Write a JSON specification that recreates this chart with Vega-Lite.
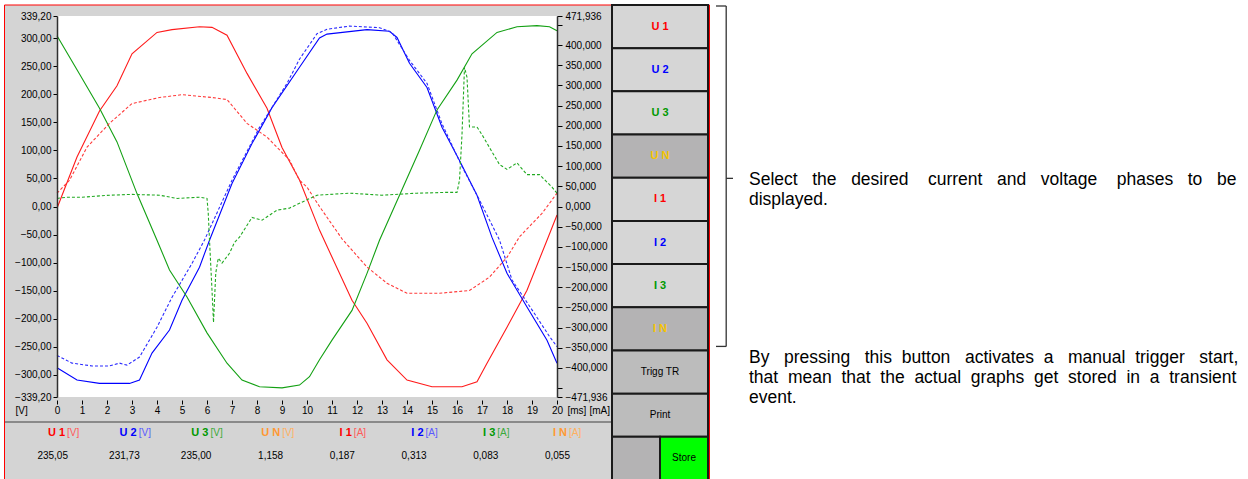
{
"$schema":"https://vega.github.io/schema/vega-lite/v6.json",
"width":1248,"height":479,"autosize":{"type":"none"},"padding":0,"background":"#ffffff",
"config":{"view":{"stroke":null},"font":"Liberation Sans","axis":{"grid":false,"labelFont":"Liberation Sans","titleFont":"Liberation Sans"},"text":{"font":"Liberation Sans"}},
"layer":[
{"data":{"values":[{"region":"instrument screen"}]},
 "mark":{"type":"rect","fill":"#d4d4d4","stroke":"#ff0000","strokeWidth":1},
 "encoding":{"x":{"field":"region","type":"nominal","scale":{"type":"band","domain":["instrument screen"],"range":[4.5,709.5],"paddingInner":0,"paddingOuter":0},"axis":null},
 "y":{"field":"region","type":"nominal","scale":{"type":"band","domain":["instrument screen"],"range":[5,500],"paddingInner":0,"paddingOuter":0},"axis":null}}},
{"data":{"values":[{"region":"plot area"}]},
 "mark":{"type":"rect","fill":"#ffffff"},
 "encoding":{"x":{"field":"region","type":"nominal","scale":{"type":"band","domain":["plot area"],"range":[57,557],"paddingInner":0,"paddingOuter":0},"axis":null},
 "y":{"field":"region","type":"nominal","scale":{"type":"band","domain":["plot area"],"range":[16,397],"paddingInner":0,"paddingOuter":0},"axis":null}}},
{"data":{"values":[{"region":"separator"}]},
 "mark":{"type":"rect","fill":"#8a8a8a"},
 "encoding":{"x":{"field":"region","type":"nominal","scale":{"type":"band","domain":["separator"],"range":[5,611],"paddingInner":0,"paddingOuter":0},"axis":null},
 "y":{"field":"region","type":"nominal","scale":{"type":"band","domain":["separator"],"range":[421,423],"paddingInner":0,"paddingOuter":0},"axis":null}}},
{"data":{"values":[
{"t":0,"v":-3,"phase":"U 1"},{"t":0.8,"v":88,"phase":"U 1"},{"t":1.7,"v":170,"phase":"U 1"},{"t":2.4,"v":215,"phase":"U 1"},{"t":3.0,"v":272,"phase":"U 1"},{"t":4.0,"v":310,"phase":"U 1"},{"t":4.6,"v":315,"phase":"U 1"},{"t":5.7,"v":320,"phase":"U 1"},{"t":6.2,"v":319,"phase":"U 1"},{"t":6.8,"v":305,"phase":"U 1"},{"t":7.6,"v":237,"phase":"U 1"},{"t":8.4,"v":175,"phase":"U 1"},{"t":9.0,"v":105,"phase":"U 1"},{"t":9.7,"v":47,"phase":"U 1"},{"t":10.5,"v":-42,"phase":"U 1"},{"t":11.8,"v":-167,"phase":"U 1"},{"t":12.4,"v":-208,"phase":"U 1"},{"t":13.2,"v":-273,"phase":"U 1"},{"t":14.0,"v":-309,"phase":"U 1"},{"t":15.0,"v":-321,"phase":"U 1"},{"t":16.2,"v":-321,"phase":"U 1"},{"t":16.8,"v":-312,"phase":"U 1"},{"t":17.2,"v":-279,"phase":"U 1"},{"t":18.0,"v":-215,"phase":"U 1"},{"t":18.8,"v":-149,"phase":"U 1"},{"t":19.6,"v":-60,"phase":"U 1"},{"t":20,"v":-15,"phase":"U 1"},
{"t":0,"v":-287,"phase":"U 2"},{"t":0.8,"v":-309,"phase":"U 2"},{"t":1.7,"v":-315,"phase":"U 2"},{"t":2.9,"v":-315,"phase":"U 2"},{"t":3.3,"v":-309,"phase":"U 2"},{"t":3.8,"v":-261,"phase":"U 2"},{"t":4.5,"v":-220,"phase":"U 2"},{"t":5.0,"v":-167,"phase":"U 2"},{"t":5.7,"v":-108,"phase":"U 2"},{"t":6.1,"v":-60,"phase":"U 2"},{"t":7.0,"v":41,"phase":"U 2"},{"t":7.8,"v":112,"phase":"U 2"},{"t":8.6,"v":176,"phase":"U 2"},{"t":9.7,"v":248,"phase":"U 2"},{"t":10.5,"v":300,"phase":"U 2"},{"t":10.8,"v":307,"phase":"U 2"},{"t":12.4,"v":315,"phase":"U 2"},{"t":13.3,"v":312,"phase":"U 2"},{"t":13.6,"v":301,"phase":"U 2"},{"t":14.1,"v":255,"phase":"U 2"},{"t":14.8,"v":212,"phase":"U 2"},{"t":15.4,"v":141,"phase":"U 2"},{"t":16.1,"v":82,"phase":"U 2"},{"t":16.8,"v":20,"phase":"U 2"},{"t":17.4,"v":-55,"phase":"U 2"},{"t":18.0,"v":-119,"phase":"U 2"},{"t":18.8,"v":-179,"phase":"U 2"},{"t":19.6,"v":-238,"phase":"U 2"},{"t":20,"v":-279,"phase":"U 2"},
{"t":0,"v":304,"phase":"U 3"},{"t":0.9,"v":236,"phase":"U 3"},{"t":1.7,"v":175,"phase":"U 3"},{"t":2.4,"v":115,"phase":"U 3"},{"t":3.2,"v":23,"phase":"U 3"},{"t":4.0,"v":-60,"phase":"U 3"},{"t":4.5,"v":-113,"phase":"U 3"},{"t":5.2,"v":-161,"phase":"U 3"},{"t":6.0,"v":-225,"phase":"U 3"},{"t":6.8,"v":-279,"phase":"U 3"},{"t":7.4,"v":-309,"phase":"U 3"},{"t":8.1,"v":-321,"phase":"U 3"},{"t":9.0,"v":-323,"phase":"U 3"},{"t":9.7,"v":-318,"phase":"U 3"},{"t":10.1,"v":-303,"phase":"U 3"},{"t":10.5,"v":-273,"phase":"U 3"},{"t":11.0,"v":-238,"phase":"U 3"},{"t":11.8,"v":-185,"phase":"U 3"},{"t":12.4,"v":-119,"phase":"U 3"},{"t":12.9,"v":-60,"phase":"U 3"},{"t":13.7,"v":20,"phase":"U 3"},{"t":14.5,"v":100,"phase":"U 3"},{"t":15.2,"v":172,"phase":"U 3"},{"t":16.0,"v":225,"phase":"U 3"},{"t":16.6,"v":272,"phase":"U 3"},{"t":17.6,"v":310,"phase":"U 3"},{"t":18.4,"v":320,"phase":"U 3"},{"t":19.2,"v":322,"phase":"U 3"},{"t":19.7,"v":320,"phase":"U 3"},{"t":20,"v":313,"phase":"U 3"}
]},
 "mark":{"type":"line","strokeWidth":1.1},
 "encoding":{
  "x":{"field":"t","type":"quantitative","scale":{"domain":[0,20],"range":[57,557],"nice":false,"zero":false},
   "axis":{"orient":"bottom","offset":-79,"values":[0,1,2,3,4,5,6,7,8,9,10,11,12,13,14,15,16,17,18,19,20],"labelExpr":"datum.value","domain":false,"tickSize":4,"tickColor":"#000000","labelPadding":1,"labelFontSize":10,"labelColor":"#000000","labelFlush":false,"labelOverlap":false,"labelBound":false,"title":"[ms]","titleX":567,"titleY":5,"titleAlign":"left","titleBaseline":"top","titleFontSize":10,"titleFontWeight":"normal","titleColor":"#000000","zindex":1}},
  "y":{"field":"v","type":"quantitative","scale":{"domain":[-339.2,339.2],"range":[397,16],"nice":false,"zero":false},
   "axis":{"orient":"left","offset":-57,"values":[-339.2,-300,-250,-200,-150,-100,-50,0,50,100,150,200,250,300,339.2],"labelExpr":"replace(format(datum.value, '.2f'), '.', ',')","domainColor":"#303030","domainWidth":1.5,"tickSize":4,"tickColor":"#000000","labelPadding":2,"labelFontSize":10,"labelColor":"#000000","labelFlush":false,"labelOverlap":false,"labelBound":false,"title":"[V]","titleAngle":0,"titleX":-42,"titleY":405,"titleAlign":"left","titleBaseline":"top","titleFontSize":10,"titleFontWeight":"normal","titleColor":"#000000","zindex":1}},
  "color":{"field":"phase","type":"nominal","scale":{"domain":["U 1","U 2","U 3"],"range":["#ff1a1a","#0000ff","#13a013"]},"legend":null}}},
{"data":{"values":[
{"t":0,"i":33,"phase":"I 1"},{"t":0.5,"i":65,"phase":"I 1"},{"t":1.2,"i":147,"phase":"I 1"},{"t":2.1,"i":206,"phase":"I 1"},{"t":3.0,"i":255,"phase":"I 1"},{"t":4.1,"i":270,"phase":"I 1"},{"t":5.0,"i":277,"phase":"I 1"},{"t":6.2,"i":270,"phase":"I 1"},{"t":6.8,"i":265,"phase":"I 1"},{"t":7.6,"i":206,"phase":"I 1"},{"t":8.4,"i":172,"phase":"I 1"},{"t":9.3,"i":115,"phase":"I 1"},{"t":9.7,"i":65,"phase":"I 1"},{"t":10.0,"i":48,"phase":"I 1"},{"t":10.5,"i":0,"phase":"I 1"},{"t":11.4,"i":-80,"phase":"I 1"},{"t":12.4,"i":-150,"phase":"I 1"},{"t":13.2,"i":-190,"phase":"I 1"},{"t":14.0,"i":-215,"phase":"I 1"},{"t":15.3,"i":-215,"phase":"I 1"},{"t":16.5,"i":-208,"phase":"I 1"},{"t":17.3,"i":-175,"phase":"I 1"},{"t":18.0,"i":-126,"phase":"I 1"},{"t":18.5,"i":-75,"phase":"I 1"},{"t":19.4,"i":-17,"phase":"I 1"},{"t":20,"i":33,"phase":"I 1"},
{"t":0,"i":-369,"phase":"I 2"},{"t":0.6,"i":-388,"phase":"I 2"},{"t":1.4,"i":-395,"phase":"I 2"},{"t":2.1,"i":-395,"phase":"I 2"},{"t":2.5,"i":-388,"phase":"I 2"},{"t":2.8,"i":-393,"phase":"I 2"},{"t":3.3,"i":-373,"phase":"I 2"},{"t":4.0,"i":-299,"phase":"I 2"},{"t":4.6,"i":-225,"phase":"I 2"},{"t":5.4,"i":-141,"phase":"I 2"},{"t":5.9,"i":-83,"phase":"I 2"},{"t":7.0,"i":65,"phase":"I 2"},{"t":8.1,"i":196,"phase":"I 2"},{"t":9.2,"i":305,"phase":"I 2"},{"t":9.7,"i":365,"phase":"I 2"},{"t":10.4,"i":428,"phase":"I 2"},{"t":10.8,"i":439,"phase":"I 2"},{"t":11.7,"i":447,"phase":"I 2"},{"t":12.9,"i":443,"phase":"I 2"},{"t":13.4,"i":431,"phase":"I 2"},{"t":14.1,"i":362,"phase":"I 2"},{"t":14.8,"i":305,"phase":"I 2"},{"t":15.4,"i":205,"phase":"I 2"},{"t":16.2,"i":99,"phase":"I 2"},{"t":16.9,"i":16,"phase":"I 2"},{"t":17.7,"i":-83,"phase":"I 2"},{"t":18.2,"i":-182,"phase":"I 2"},{"t":19.0,"i":-256,"phase":"I 2"},{"t":19.7,"i":-322,"phase":"I 2"},{"t":20,"i":-347,"phase":"I 2"},
{"t":0,"i":20,"phase":"I 3"},{"t":0.4,"i":23,"phase":"I 3"},{"t":1.0,"i":23,"phase":"I 3"},{"t":2.1,"i":28,"phase":"I 3"},{"t":3.0,"i":30,"phase":"I 3"},{"t":4.1,"i":28,"phase":"I 3"},{"t":4.8,"i":20,"phase":"I 3"},{"t":5.7,"i":23,"phase":"I 3"},{"t":6.0,"i":20,"phase":"I 3"},{"t":6.05,"i":-17,"phase":"I 3"},{"t":6.1,"i":-83,"phase":"I 3"},{"t":6.2,"i":-207,"phase":"I 3"},{"t":6.26,"i":-287,"phase":"I 3"},{"t":6.35,"i":-165,"phase":"I 3"},{"t":6.45,"i":-128,"phase":"I 3"},{"t":6.6,"i":-140,"phase":"I 3"},{"t":6.9,"i":-116,"phase":"I 3"},{"t":7.1,"i":-89,"phase":"I 3"},{"t":7.3,"i":-76,"phase":"I 3"},{"t":7.8,"i":-27,"phase":"I 3"},{"t":8.2,"i":-34,"phase":"I 3"},{"t":8.8,"i":-9,"phase":"I 3"},{"t":9.3,"i":-4,"phase":"I 3"},{"t":9.7,"i":8,"phase":"I 3"},{"t":10.4,"i":28,"phase":"I 3"},{"t":11.7,"i":33,"phase":"I 3"},{"t":13.0,"i":28,"phase":"I 3"},{"t":14.4,"i":33,"phase":"I 3"},{"t":15.6,"i":35,"phase":"I 3"},{"t":16.0,"i":35,"phase":"I 3"},{"t":16.1,"i":65,"phase":"I 3"},{"t":16.2,"i":178,"phase":"I 3"},{"t":16.3,"i":345,"phase":"I 3"},{"t":16.4,"i":320,"phase":"I 3"},{"t":16.5,"i":197,"phase":"I 3"},{"t":16.8,"i":197,"phase":"I 3"},{"t":17.0,"i":178,"phase":"I 3"},{"t":17.3,"i":146,"phase":"I 3"},{"t":17.7,"i":104,"phase":"I 3"},{"t":18.0,"i":92,"phase":"I 3"},{"t":18.4,"i":108,"phase":"I 3"},{"t":18.8,"i":79,"phase":"I 3"},{"t":19.3,"i":79,"phase":"I 3"},{"t":19.8,"i":48,"phase":"I 3"},{"t":20,"i":33,"phase":"I 3"}
]},
 "mark":{"type":"line","strokeWidth":1.1,"strokeDash":[3,2]},
 "encoding":{
  "x":{"field":"t","type":"quantitative","scale":{"domain":[0,20],"range":[57,557],"nice":false,"zero":false},"axis":null},
  "y":{"field":"i","type":"quantitative","scale":{"domain":[-471.936,471.936],"range":[397,16],"nice":false,"zero":false},
   "axis":{"orient":"right","offset":-691,"values":[-471.936,-450,-400,-350,-300,-250,-200,-150,-100,-50,0,50,100,150,200,250,300,350,400,450,471.936],"labelExpr":"abs(datum.value) == 450 ? '' : replace(format(datum.value, '.3f'), '.', ',')","domainColor":"#303030","domainWidth":1.5,"tickSize":5,"tickColor":"#000000","labelPadding":3,"labelFontSize":10,"labelColor":"#000000","labelFlush":false,"labelOverlap":false,"labelBound":false,"title":"[mA]","titleAngle":0,"titleX":32,"titleY":405,"titleAlign":"left","titleBaseline":"top","titleFontSize":10,"titleFontWeight":"normal","titleColor":"#000000","zindex":1}},
  "color":{"field":"phase","type":"nominal","scale":{"domain":["I 1","I 2","I 3"],"range":["#ff3a3a","#2a2aff","#22aa22"]},"legend":null}}},
{"data":{"values":[
{"name":"U 1","unit":"[V]","reading":"235,05"},{"name":"U 2","unit":"[V]","reading":"231,73"},{"name":"U 3","unit":"[V]","reading":"235,00"},{"name":"U N","unit":"[V]","reading":"1,158"},
{"name":"I 1","unit":"[A]","reading":"0,187"},{"name":"I 2","unit":"[A]","reading":"0,313"},{"name":"I 3","unit":"[A]","reading":"0,083"},{"name":"I N","unit":"[A]","reading":"0,055"}]},
 "encoding":{"x":{"field":"name","type":"nominal","scale":{"type":"point","domain":["U 1","U 2","U 3","U N","I 1","I 2","I 3","I N"],"range":[66,568],"padding":0},"axis":null}},
 "layer":[
  {"mark":{"type":"text","align":"right","baseline":"middle","dx":-1,"fontSize":11,"fontWeight":"bold"},
   "encoding":{"y":{"datum":"label","type":"nominal","scale":{"type":"point","domain":["label","reading"],"range":[433,456],"padding":0},"axis":null},
    "text":{"field":"name"},
    "color":{"field":"name","type":"nominal","scale":{"domain":["U 1","U 2","U 3","U N","I 1","I 2","I 3","I N"],"range":["#ff0000","#0000ff","#009900","#ff9933","#ff0000","#0000ff","#009900","#ff9933"]},"legend":null}}},
  {"mark":{"type":"text","align":"left","baseline":"middle","dx":1,"fontSize":10},
   "encoding":{"y":{"datum":"label","type":"nominal"},
    "text":{"field":"unit"},
    "fill":{"field":"name","type":"nominal","scale":{"domain":["U 1","U 2","U 3","U N","I 1","I 2","I 3","I N"],"range":["#ff5a5a","#5a5aff","#3aaa3a","#ffb060","#ff5a5a","#5a5aff","#3aaa3a","#ffb060"]},"legend":null}}},
  {"mark":{"type":"text","align":"right","baseline":"middle","dx":2,"fontSize":10,"color":"#000000"},
   "encoding":{"y":{"datum":"reading","type":"nominal"},"text":{"field":"reading"}}}
 ]},
{"data":{"values":[
{"row":"U 1","btn":"U 1","column":"main","state":"on"},{"row":"U 2","btn":"U 2","column":"main","state":"on"},{"row":"U 3","btn":"U 3","column":"main","state":"on"},{"row":"U N","btn":"U N","column":"main","state":"off"},
{"row":"I 1","btn":"I 1","column":"main","state":"on"},{"row":"I 2","btn":"I 2","column":"main","state":"on"},{"row":"I 3","btn":"I 3","column":"main","state":"on"},{"row":"I N","btn":"I N","column":"main","state":"off"},
{"row":"Trigg TR","btn":"Trigg TR","column":"main","state":"action"},{"row":"Print","btn":"Print","column":"main","state":"action"}]},
 "encoding":{
  "x":{"field":"column","type":"nominal","scale":{"type":"band","domain":["main"],"range":[612,708],"paddingInner":0,"paddingOuter":0},"axis":null},
  "y":{"field":"row","type":"nominal","scale":{"type":"band","domain":["U 1","U 2","U 3","U N","I 1","I 2","I 3","I N","Trigg TR","Print","bottom"],"range":[5,480],"paddingInner":0,"paddingOuter":0},"axis":null}},
 "layer":[
  {"mark":{"type":"rect","stroke":"#1a1a1a","strokeWidth":2},
   "encoding":{"fill":{"field":"state","type":"nominal","scale":{"domain":["on","off","action"],"range":["#d6d6d6","#b4b3b4","#bcbcbc"]},"legend":null}}},
  {"transform":[{"filter":"datum.state != 'action'"}],
   "mark":{"type":"text","fontSize":11,"fontWeight":"bold","baseline":"middle"},
   "encoding":{"x":{"field":"column","type":"nominal","bandPosition":0.5},"y":{"field":"row","type":"nominal","bandPosition":0.5},
    "text":{"field":"btn"},
    "color":{"field":"btn","type":"nominal","scale":{"domain":["U 1","U 2","U 3","U N","I 1","I 2","I 3","I N"],"range":["#ff0000","#0000ff","#009900","#f5c400","#ff0000","#0000ff","#009900","#f5c400"]},"legend":null}}},
  {"transform":[{"filter":"datum.state == 'action'"}],
   "mark":{"type":"text","fontSize":10,"baseline":"middle","color":"#000000"},
   "encoding":{"x":{"field":"column","type":"nominal","bandPosition":0.5},"y":{"field":"row","type":"nominal","bandPosition":0.5},"text":{"field":"btn"}}}
 ]},
{"data":{"values":[{"row":"bottom","column":"left","btn":"","state":"off"},{"row":"bottom","column":"right","btn":"Store","state":"store"}]},
 "encoding":{
  "x":{"field":"column","type":"nominal","scale":{"type":"band","domain":["left","right"],"range":[612,708],"paddingInner":0,"paddingOuter":0},"axis":null},
  "y":{"field":"row","type":"nominal","scale":{"type":"band","domain":["U 1","U 2","U 3","U N","I 1","I 2","I 3","I N","Trigg TR","Print","bottom"],"range":[5,480],"paddingInner":0,"paddingOuter":0},"axis":null}},
 "layer":[
  {"mark":{"type":"rect","stroke":"#1a1a1a","strokeWidth":2},
   "encoding":{"fill":{"field":"state","type":"nominal","scale":{"domain":["off","store"],"range":["#b4b3b4","#00ff00"]},"legend":null}}},
  {"mark":{"type":"text","fontSize":10,"baseline":"middle","color":"#000000"},
   "encoding":{"x":{"field":"column","type":"nominal","bandPosition":0.5},"y":{"field":"row","type":"nominal","bandPosition":0.5},"text":{"field":"btn"}}}
 ]},
{"data":{"values":[{"part":"brace","first":"U 1","last":"I N","tip":"I 1"}]},
 "layer":[
  {"mark":{"type":"rule","color":"#333333","strokeWidth":1.3},
   "encoding":{"x":{"field":"part","type":"nominal","bandPosition":0.6,"scale":{"type":"band","domain":["brace"],"range":[716,733],"paddingInner":0,"paddingOuter":0},"axis":null},
    "y":{"field":"first","type":"nominal","bandPosition":0,"scale":{"type":"band","domain":["U 1","U 2","U 3","U N","I 1","I 2","I 3","I N","Trigg TR","Print","bottom"],"range":[6,480],"paddingInner":0,"paddingOuter":0},"axis":null},
    "y2":{"field":"last","bandPosition":0.9}}},
  {"mark":{"type":"rule","color":"#333333","strokeWidth":1.3},
   "encoding":{"x":{"field":"part","type":"nominal","bandPosition":0},"x2":{"field":"part","bandPosition":0.6},
    "y":{"field":"first","type":"nominal","bandPosition":0}}},
  {"mark":{"type":"rule","color":"#333333","strokeWidth":1.3},
   "encoding":{"x":{"field":"part","type":"nominal","bandPosition":0},"x2":{"field":"part","bandPosition":0.6},
    "y":{"field":"last","type":"nominal","bandPosition":0.9}}},
  {"mark":{"type":"rule","color":"#333333","strokeWidth":1.3},
   "encoding":{"x":{"field":"part","type":"nominal","bandPosition":0.6},"x2":{"field":"part","bandPosition":1},
    "y":{"field":"tip","type":"nominal","bandPosition":0}}}
 ]},
{"data":{"values":[
 {"note":"select","anchor":"I 1","lines":["Select \u00a0\u00a0the \u00a0\u00a0desired \u00a0\u00a0\u00a0current \u00a0\u00a0and \u00a0\u00a0voltage \u00a0\u00a0\u00a0phases \u00a0\u00a0to \u00a0\u00a0be","displayed."]},
 {"note":"trigger","anchor":"Trigg TR","lines":["By \u00a0\u00a0pressing \u00a0\u00a0this \u00a0button \u00a0\u00a0activates \u00a0a \u00a0\u00a0manual \u00a0trigger \u00a0\u00a0start,","that \u00a0mean \u00a0that \u00a0the \u00a0actual \u00a0graphs \u00a0get \u00a0stored \u00a0in \u00a0a \u00a0transient","event."]}]},
 "encoding":{"x":{"datum":"annotations","type":"nominal","scale":{"type":"point","domain":["annotations"],"range":[749,749],"padding":0},"axis":null}},
 "layer":[
  {"transform":[{"filter":"datum.note == 'select'"}],
   "mark":{"type":"text","align":"left","baseline":"top","dy":-7,"fontSize":17.5,"lineHeight":20,"color":"#000000"},
   "encoding":{"y":{"field":"anchor","type":"nominal","bandPosition":0,"scale":{"type":"band","domain":["U 1","U 2","U 3","U N","I 1","I 2","I 3","I N","Trigg TR","Print","bottom"],"range":[5,480],"paddingInner":0,"paddingOuter":0},"axis":null},
    "text":{"field":"lines"}}},
  {"transform":[{"filter":"datum.note == 'trigger'"}],
   "mark":{"type":"text","align":"left","baseline":"top","dy":-1.5,"fontSize":17.5,"lineHeight":20,"color":"#000000"},
   "encoding":{"y":{"field":"anchor","type":"nominal","bandPosition":0},"text":{"field":"lines"}}}
 ]}
],
"resolve":{"scale":{"x":"independent","y":"independent","color":"independent","fill":"independent"},"axis":{"x":"independent","y":"independent"}}
}
